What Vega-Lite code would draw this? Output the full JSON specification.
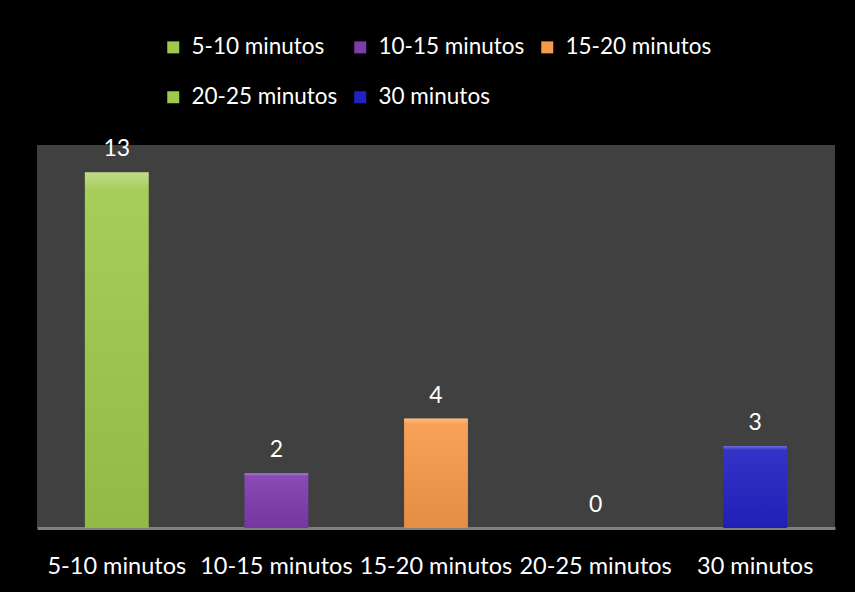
{
  "$schema": "https://vega.github.io/schema/vega-lite/v6.json",
  "autosize": {"type": "none"},
  "width": 798,
  "height": 383,
  "padding": {"left": 37, "top": 145, "right": 20, "bottom": 64},
  "background": "#000000",
  "config": {
    "view": {"fill": "#404040", "stroke": null},
    "font": "Lato"
  },
  "data": {
    "values": [
      {"tiempo": "5-10 minutos", "valor": 13},
      {"tiempo": "10-15 minutos", "valor": 2},
      {"tiempo": "15-20 minutos", "valor": 4},
      {"tiempo": "20-25 minutos", "valor": 0},
      {"tiempo": "30 minutos", "valor": 3}
    ]
  },
  "encoding": {
    "x": {
      "field": "tiempo",
      "type": "nominal",
      "sort": null,
      "scale": {"paddingInner": 0.6, "paddingOuter": 0.3},
      "axis": {
        "title": null,
        "labelAngle": 0,
        "labelColor": "#ffffff",
        "labelFont": "Lato",
        "labelFontSize": 23.5,
        "labelPadding": 26,
        "labelLimit": 300,
        "ticks": false,
        "domainColor": "#808080",
        "domainWidth": 3,
        "grid": false
      }
    },
    "y": {
      "field": "valor",
      "type": "quantitative",
      "scale": {"domain": [0, 14], "nice": false},
      "axis": null
    }
  },
  "layer": [
    {
      "mark": {"type": "bar"},
      "encoding": {
        "color": {
          "field": "tiempo",
          "type": "nominal",
          "sort": null,
          "scale": {
            "domain": ["5-10 minutos", "10-15 minutos", "15-20 minutos", "20-25 minutos", "30 minutos"],
            "range": ["#9fc94c", "#7e3bad", "#f79a4a", "#9fc94c", "#2222c4"]
          },
          "legend": {
            "title": null,
            "orient": "none",
            "legendX": 125,
            "legendY": -109,
            "columns": 3,
            "direction": "horizontal",
            "symbolType": "square",
            "symbolSize": 144,
            "symbolStrokeWidth": 0,
            "labelColor": "#ffffff",
            "labelFont": "Lato",
            "labelFontSize": 22.5,
            "labelOffset": 7,
            "columnPadding": 11,
            "rowPadding": 27,
            "labelLimit": 300
          }
        }
      }
    },
    {
      "mark": {
        "type": "bar",
        "fill": {
          "gradient": "linear",
          "x1": 0, "y1": 0, "x2": 0, "y2": 1,
          "stops": [
            {"offset": 0, "color": "rgba(255,255,255,0.35)"},
            {"offset": 0.05, "color": "rgba(255,255,255,0.08)"},
            {"offset": 1, "color": "rgba(0,0,0,0.08)"}
          ]
        }
      }
    },
    {
      "mark": {"type": "text", "baseline": "bottom", "dy": -11, "color": "#ffffff", "fontSize": 23, "font": "Lato"},
      "encoding": {"text": {"field": "valor", "type": "quantitative"}}
    }
  ]
}
